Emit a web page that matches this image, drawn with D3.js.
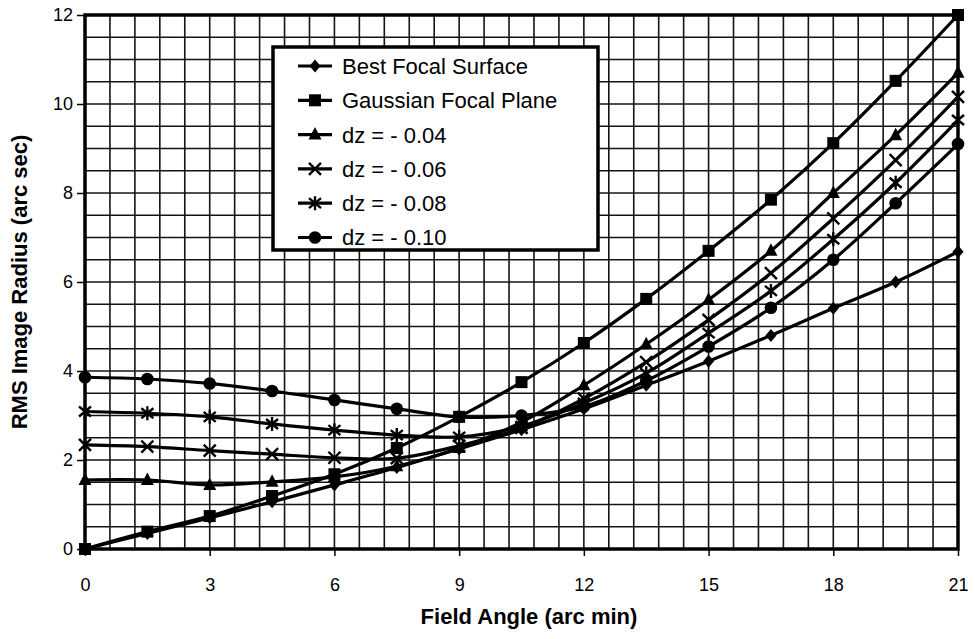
<!DOCTYPE html>
<html>
<head>
<meta charset="utf-8">
<script src="https://cdn.jsdelivr.net/npm/d3@7"></script>
<style>
  html, body { margin: 0; padding: 0; background: #fff; }
  svg { display: block; font-family: "Liberation Sans", Arial, sans-serif; }
</style>
</head>
<body>
<svg id="chart" width="975" height="639"></svg>
<script>
// Field angles (arc min) at which the RMS image radius was computed
const fieldAngle = [0, 1.5, 3, 4.5, 6, 7.5, 9, 10.5, 12, 13.5, 15, 16.5, 18, 19.5, 21];

// RMS image radius (arc sec) for each focal setting
const bestFocal = [0, 0.35, 0.7, 1.06, 1.44, 1.83, 2.25, 2.68, 3.15, 3.68, 4.22, 4.8, 5.41, 6.0, 6.68];
const gaussian  = [0, 0.39, 0.74, 1.19, 1.68, 2.27, 2.97, 3.75, 4.63, 5.62, 6.7, 7.85, 9.12, 10.52, 12.0];
const dz04      = [1.55, 1.55, 1.44, 1.51, 1.62, 1.86, 2.27, 2.85, 3.68, 4.6, 5.6, 6.7, 8.0, 9.3, 10.7];
const dz06      = [2.34, 2.3, 2.21, 2.13, 2.05, 2.04, 2.32, 2.72, 3.38, 4.2, 5.15, 6.2, 7.43, 8.74, 10.16];
const dz08      = [3.09, 3.05, 2.97, 2.81, 2.67, 2.56, 2.52, 2.76, 3.28, 3.95, 4.85, 5.8, 6.96, 8.23, 9.64];
const dz10      = [3.86, 3.82, 3.72, 3.55, 3.35, 3.15, 2.97, 3.0, 3.2, 3.78, 4.55, 5.42, 6.5, 7.77, 9.1];

const seriesNames = ["Best Focal Surface", "Gaussian Focal Plane", "dz = - 0.04", "dz = - 0.06", "dz = - 0.08", "dz = - 0.10"];
const seriesValues = [bestFocal, gaussian, dz04, dz06, dz08, dz10];
const seriesMarkers = ["diamond", "square", "triangle", "cross", "star", "circle"];

// Axis ticks
const xTicks = [0, 3, 6, 9, 12, 15, 18, 21];
const yTicks = [0, 2, 4, 6, 8, 10, 12];

const svg = d3.select("#chart");
const plotLeft = 85, plotRight = 958, plotTop = 15, plotBottom = 549;

const x = d3.scaleLinear().domain([0, 21]).range([plotLeft, plotRight]);
const y = d3.scaleLinear().domain([0, 12]).range([plotBottom, plotTop]);

// Grid: verticals every 0.6 arc min, horizontals every 0.5 arc sec
const grid = svg.append("g").attr("stroke", "#141414").attr("stroke-width", 1.6);
d3.range(0.6, 21 - 0.01, 0.6).forEach(v => {
  grid.append("line").attr("x1", x(v)).attr("x2", x(v)).attr("y1", y(0)).attr("y2", y(12));
});
d3.range(0.5, 12 - 0.01, 0.5).forEach(v => {
  grid.append("line").attr("x1", x(0)).attr("x2", x(21)).attr("y1", y(v)).attr("y2", y(v));
});

// Axes
const xAxis = svg.append("g")
  .attr("transform", `translate(0,${plotBottom})`)
  .call(d3.axisBottom(x).tickValues(xTicks).tickSize(7).tickPadding(22).tickFormat(d3.format("d")));
const yAxis = svg.append("g")
  .attr("transform", `translate(${plotLeft},0)`)
  .call(d3.axisLeft(y).tickValues(yTicks).tickSize(8).tickPadding(4).tickFormat(d3.format("d")));
[xAxis, yAxis].forEach(a => {
  a.select(".domain").remove();
  a.selectAll(".tick line").attr("stroke", "#000").attr("stroke-width", 1.5);
  a.selectAll(".tick text").attr("fill", "#000").style("font-size", "18px")
    .style("font-family", "'Liberation Sans', Arial, sans-serif");
});

// Plot frame
svg.append("rect")
  .attr("x", plotLeft).attr("y", plotTop)
  .attr("width", plotRight - plotLeft).attr("height", plotBottom - plotTop)
  .attr("fill", "none").attr("stroke", "#000").attr("stroke-width", 3.5);

// Marker shapes
function drawMarker(g, type, cx, cy) {
  const s = 6;
  if (type === "diamond") {
    g.append("path").attr("d", `M${cx},${cy - 6.5}L${cx + 5.5},${cy}L${cx},${cy + 6.5}L${cx - 5.5},${cy}Z`).attr("fill", "#000");
  } else if (type === "square") {
    g.append("rect").attr("x", cx - s).attr("y", cy - s).attr("width", 2 * s).attr("height", 2 * s).attr("fill", "#000");
  } else if (type === "triangle") {
    g.append("path").attr("d", `M${cx},${cy - 7.5}L${cx + 6.5},${cy + 5}L${cx - 6.5},${cy + 5}Z`).attr("fill", "#000");
  } else if (type === "cross") {
    g.append("path").attr("d", `M${cx - 6},${cy - 6}L${cx + 6},${cy + 6}M${cx - 6},${cy + 6}L${cx + 6},${cy - 6}`)
      .attr("stroke", "#000").attr("stroke-width", 2.4).attr("fill", "none");
  } else if (type === "star") {
    g.append("path").attr("d", `M${cx - 6},${cy - 5}L${cx + 6},${cy + 5}M${cx - 6},${cy + 5}L${cx + 6},${cy - 5}M${cx},${cy - 7}L${cx},${cy + 7}`)
      .attr("stroke", "#000").attr("stroke-width", 2.4).attr("fill", "none");
  } else if (type === "circle") {
    g.append("circle").attr("cx", cx).attr("cy", cy).attr("r", 6.3).attr("fill", "#000");
  }
}

// Smoothed series lines with markers
const line = d3.line()
  .x(d => x(d[0]))
  .y(d => y(d[1]))
  .curve(d3.curveCatmullRom.alpha(0.5));

const plot = svg.append("g");
seriesValues.forEach((vals, i) => {
  const pts = fieldAngle.map((a, j) => [a, vals[j]]);
  plot.append("path").datum(pts)
    .attr("d", line)
    .attr("fill", "none").attr("stroke", "#000").attr("stroke-width", 3.2)
    .attr("stroke-linejoin", "round");
  const mg = plot.append("g");
  pts.forEach(p => drawMarker(mg, seriesMarkers[i], x(p[0]), y(p[1])));
});

// Legend
const legend = svg.append("g");
legend.append("rect")
  .attr("x", 273).attr("y", 47).attr("width", 325).attr("height", 203)
  .attr("fill", "#fff").attr("stroke", "#000").attr("stroke-width", 3.5);
seriesNames.forEach((name, i) => {
  const cy = 66 + i * 34.3;
  legend.append("line").attr("x1", 298).attr("x2", 332).attr("y1", cy).attr("y2", cy)
    .attr("stroke", "#000").attr("stroke-width", 3.2);
  drawMarker(legend, seriesMarkers[i], 315, cy);
  legend.append("text").attr("x", 342).attr("y", cy).attr("dy", "0.36em")
    .style("font-size", "22px").attr("fill", "#000").text(name);
});

// Axis titles
svg.append("text")
  .attr("x", 529).attr("y", 624).attr("text-anchor", "middle")
  .style("font-size", "22px").style("font-weight", "bold").text("Field Angle (arc min)");
svg.append("text")
  .attr("transform", `translate(27,${(plotTop + plotBottom) / 2}) rotate(-90)`)
  .attr("text-anchor", "middle")
  .style("font-size", "22px").style("font-weight", "bold").text("RMS Image Radius (arc sec)");
</script>
</body>
</html>
